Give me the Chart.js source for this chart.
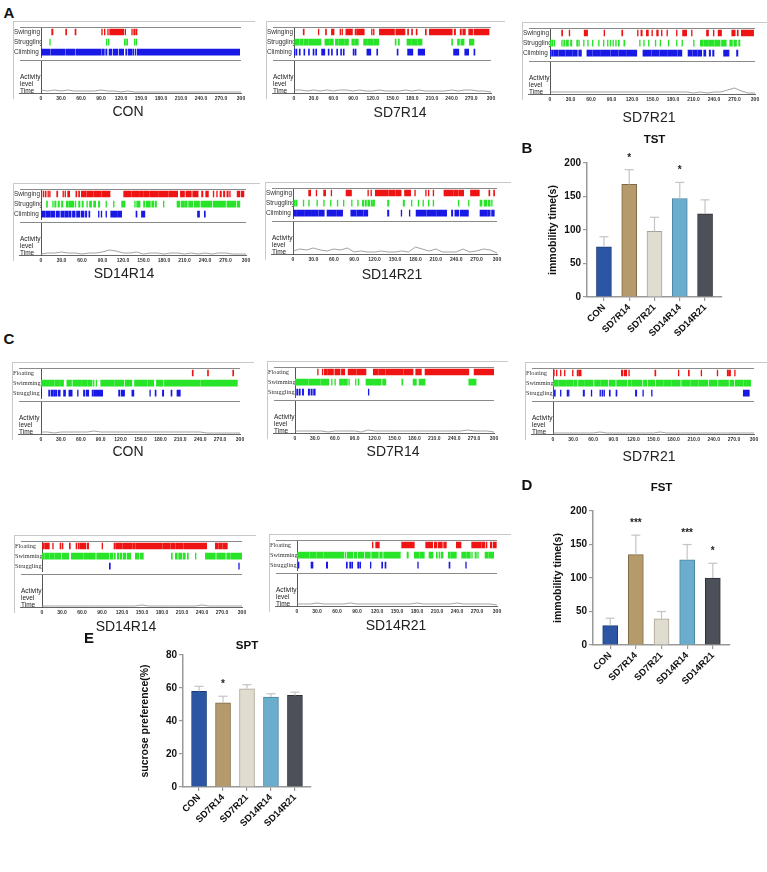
<!DOCTYPE html>
<html>
<head>
<meta charset="utf-8">
<script src="https://cdn.jsdelivr.net/npm/chart.js"></script>
<style>
  body { margin: 0; background: #fff; width: 767px; height: 872px; position: relative; overflow: hidden;
         font-family: "Liberation Sans", Arial, sans-serif; }
  canvas { position: absolute; }
</style>
</head>
<body>
<script>
// ---- bar chart data (B, D, E) ----
const groups = ['CON', 'SD7R14', 'SD7R21', 'SD14R14', 'SD14R21'];
const tstMean = [75, 168, 98, 147, 124];
const tstErr = [15, 22, 21, 24, 21];
const tstStars = ['', '*', '', '*', ''];
const fstMean = [29, 135, 39, 127, 100];
const fstErr = [11, 29, 11, 23, 22];
const fstStars = ['', '***', '', '***', '*'];
const sptMean = [58, 51, 59.5, 54.5, 55.5];
const sptErr = [3, 4, 2.5, 2, 2];
const sptStars = ['', '*', '', '', ''];

// ---- ethogram data (A, C), intervals in seconds ----
const tstRows = ['Swinging', 'Struggling', 'Climbing'];
const fstRows = ['Floating', 'Swimming', 'Struggling'];
const timeTicks = [0, 30, 60, 90, 120, 150, 180, 210, 240, 270, 300];
const actTimes = [0, 10, 20, 30, 40, 50, 60, 70, 80, 90, 100, 110, 120, 130, 140, 150, 160, 170, 180, 190, 200, 210, 220, 230, 240, 250, 260, 270, 280, 290, 300];

const tstCON_swing = [[16,18],[37,38.5],[51,52.5],[91,92],[95,96],[100,101],[103,106],[107,124],[126,127],[136,137],[139,140.5],[142,144]];
const tstCON_strug = [[13,14],[98,99],[101,102],[125,126],[127,128],[129,130],[140,141],[142.5,143.5]];
const tstCON_climb = [[0,13],[14.5,36.5],[38,51],[52.5,90.5],[92,95],[97,99],[102,106],[108,115],[117,124],[127,129],[131,136],[137.5,139],[141,142],[144,298]];
const tstCON_act = [3,2,3,2,3,2,2,2,2,3,2,2,1,2,1,1,1,1,1,1,1,1,1,1,1,1,1,1,1,1,1];

const tstSD7R14_swing = [[14,15.5],[37,38],[48,49.5],[57,61],[70,71],[73,74],[79,89],[93,95],[96,107],[118,119],[121,122],[130,153],[155,169],[173,174.5],[179,180.5],[186,187.5],[200,201.5],[206,241],[244,246],[253,255],[257,261],[266,272],[274,297]];
const tstSD7R14_strug = [[1,8],[9,14],[15,22],[23,30],[31,36],[37,41],[47,53],[54,60],[63,67],[68,76],[77,83],[88,92],[93,98],[106,112],[113,121],[122,129],[154,155.5],[159,160.5],[172,178],[179,188],[189,195],[240,241.5],[249,252],[254,259],[267,274]];
const tstSD7R14_climb = [[0,1.5],[3,4.5],[8,9.5],[15,16.5],[22,23.5],[29,30.5],[33,34.5],[42,47],[52,53.5],[57,58.5],[65,66.5],[71,72.5],[75,76.5],[90,91.5],[93,94.5],[111,117],[126,127.5],[157,158.5],[173,181],[189,199],[243,251],[260,266],[274,275.5]];
const tstSD7R14_act = [3,3,2,3,2,3,2,3,3,2,3,2,2,3,2,2,2,3,2,3,2,2,2,2,3,2,3,3,2,2,1];

const tstSD7R21_swing = [[17,18.5],[28,29],[50,55],[79,80],[105,106.5],[128,129],[133,135],[141,144],[149,150],[156,158.5],[163,164],[171,172],[185,186],[194,200],[207,208],[229,232],[239,240],[246,251],[266,271],[274,275.5],[280,298]];
const tstSD7R21_strug = [[0,2],[3,4.5],[6,7],[17,18],[20,22],[24,27],[30,32],[39,40.5],[42,43],[49,50],[55,56],[62,63],[71,72],[78,79],[84,85],[88,89],[92,93],[96,97],[100,101.5],[108,109.5],[131,132],[137,138],[144,145],[154,155],[161,162],[173,174],[185,186],[193,194],[210,211],[220,224],[225,232],[233,240],[241,249],[251,258],[263,267],[269,273],[276,278]];
const tstSD7R21_climb = [[0,2],[3,5],[6,12],[13,22],[23,32],[33,40],[42,46],[54,62],[63,74],[75,88],[89,100],[101,112],[113,127],[136,148],[149,160],[161,172],[173,186],[187,193],[202,208],[209,215],[216,222],[225,228],[233,235],[238,240],[254,260],[261,262],[273,275]];
const tstSD7R21_act = [2,2,2,2,2,2,2,2,2,2,2,2,2,2,2,2,2,2,2,2,2,1,2,1,2,2,4,6,3,1,1];

const tstSD14R14_swing = [[3,4],[6,7.5],[10,11],[12.5,13.5],[23,24.5],[32,33],[35,36],[39,42],[51,52.5],[55,56.5],[59,66],[67,76],[77,88],[89,101],[121,132],[133,143],[144,150],[151,158],[159,172],[173,186],[187,200],[204,210],[212,220],[222,230],[235,237],[241,245],[252,253],[257,258],[262,264],[267,269],[272,274],[276,277],[287,291],[293,297]];
const tstSD14R14_strug = [[8,9.5],[17,18],[20,22],[25,27],[30,32],[37,40],[41,48],[50,51],[55,57],[60,62],[67,68],[71,74],[77,80],[84,86],[95,96],[106,107],[118,123],[137,138],[140,145],[150,152],[154,160],[162,165],[167,169],[179,180],[199,203],[205,209],[210,214],[216,222],[224,232],[234,250],[252,270],[272,285],[287,291]];
const tstSD14R14_climb = [[0,6],[7,13],[14,20],[22,27],[29,34],[35,40],[41,44],[46,50],[52,57],[59,63],[65,67],[70,71.5],[84,85],[88,89],[95,96],[102,112],[113,118],[139,140.5],[147,152],[229,232],[239,240.5]];
const tstSD14R14_act = [1,2,2,3,2,2,1,2,2,3,5,4,2,2,3,1,2,2,1,2,2,1,2,1,2,1,2,2,1,1,1];

const tstSD14R21_swing = [[23,26],[34,35],[45,48],[56,57],[78,86],[110,111],[114.5,115.5],[121,140],[141,150],[151,159],[164,173],[179,180],[195,196],[199,200],[206,207],[222,236],[237,243],[244,251],[261,274],[288,289.5],[295,296.5]];
const tstSD14R21_strug = [[1,3],[4,6],[15,16],[23,24],[35,36],[45,46],[55,56],[65,66],[74,75],[86,87],[95,96],[102,104],[106,108],[110,113],[115,117],[118,120],[139,141],[162,164],[174,175],[184,185],[191,192],[199,200],[206,207],[243,244],[258,259],[275,278],[281,285],[287,290],[292,293]];
const tstSD14R21_climb = [[0,4],[5,17],[18,26],[27,37],[38,46],[50,63],[64,73],[85,93],[94,103],[104,110],[139,141],[159,160],[171,172],[181,196],[197,211],[212,226],[233,235],[238,244],[246,258],[275,285],[286,290],[292,296]];
const tstSD14R21_act = [3,5,4,6,4,3,5,4,6,2,3,2,2,3,2,2,3,2,7,5,3,5,2,2,2,5,2,3,5,4,1];

const fstCON_float = [[228,229.5],[251,252.5],[289,290.5]];
const fstCON_swim = [[0,13],[14,20],[21,28],[29,34],[39,46],[48,60],[61,70],[71,77],[79,80],[83,84],[90,110],[111,125],[127,137],[141,160],[161,170],[174,184],[186,206],[207,240],[241,296]];
const fstCON_strug = [[0,1],[11.5,13],[15,18],[19,22],[23,24],[26,29],[34,37],[42,47],[55,56],[64,66],[68,72],[77,79],[80,93],[117,119],[121,126],[137,140],[164,165],[172,173.5],[183,185],[196,197.5],[205,210]];
const fstCON_act = [2,2,1,2,2,2,2,2,3,2,2,2,2,2,2,2,2,2,2,2,2,2,2,2,2,1,1,1,1,1,1];

const fstSD7R14_float = [[34,35],[41,42],[44,48],[49,58],[60,68],[70,75],[80,92],[93,107],[118,125],[126,136],[137,163],[164,178],[182,185],[186,190.5],[196,262],[270,300]];
const fstSD7R14_swim = [[0,20],[21,38],[39,51],[55,56],[60,61],[67,72],[73,79],[81,82],[91,92],[95,96.5],[107,120],[121,130],[132,137],[161,162.5],[178,183],[187,196],[262,273]];
const fstSD7R14_strug = [[2.5,4],[6,8],[11,13],[20,22],[24,26],[28,30.5],[110.5,111.5]];
const fstSD7R14_act = [2,2,2,2,2,1,2,2,2,2,1,3,2,2,2,2,2,2,2,2,2,2,2,2,2,2,3,2,2,2,1];

const fstSD7R21_float = [[1,2],[5,6],[11,12],[17,18],[29,30],[36,38],[39,42],[102,104],[106,110],[113,114],[152,153.5],[187,188],[202,203.5],[221,222],[245,246],[260,262],[263,265],[271,272]];
const fstSD7R21_swim = [[0,8],[9,19],[20,30],[31,36],[38,47],[48,60],[62,70],[71,82],[84,93],[95,110],[112,117],[118,133],[135,140],[142,152],[154,164],[165,176],[177,190],[192,205],[206,217],[218,231],[233,245],[247,262],[264,270],[272,284],[285,289],[290,295]];
const fstSD7R21_strug = [[2,3.5],[11,12],[21,22],[23,24],[45,47],[57,58],[70,71],[73,74.5],[76,77],[84,85.5],[94,95.5],[123,125],[134,135],[147,148],[284,293]];
const fstSD7R21_act = [1,1,1,1,1,1,1,2,1,1,1,1,1,1,1,1,2,1,1,1,1,1,1,1,1,1,1,1,1,1,1];

const fstSD14R14_float = [[0,3],[4,7],[8,11],[16,17],[27,28],[30,31.5],[41,42.5],[51,52],[54,56],[57,61],[62,66],[68,70],[90,91],[108,110],[111,120],[121,135],[136,140],[141,148],[149,180],[181,192],[193,200],[201,212],[213,220],[221,232],[233,247],[260,264],[265,270],[271,278]];
const fstSD14R14_swim = [[0,3],[4,11],[12,18],[19,28],[30,40],[44,52],[53,62],[63,70],[71,80],[82,100],[102,106],[108,110],[113,115],[117,120],[122,126],[128,133],[140,145],[147,152],[194,195.5],[200,203],[205,210],[212,215],[218,219.5],[230,231],[245,250],[251,260],[262,275],[277,282],[283,300]];
const fstSD14R14_strug = [[101,102.5],[295,296]];
const fstSD14R14_act = [1,1,1,1,1,1,1,1,1,1,1,1,1,1,1,2,1,1,1,1,1,1,1,1,2,1,1,1,1,1,1];

const fstSD14R21_float = [[113,114],[118,123.5],[157,166],[167,176],[193,196],[197,203.5],[206,210],[212,218],[220,224],[239,246],[262,268],[269,276],[277,282],[284,285],[290,292],[294,299]];
const fstSD14R21_swim = [[0,4],[5,18],[19,29],[30,39],[40,49],[50,70],[72,73],[75,84],[86,90],[92,100],[102,110],[112,122],[124,128],[130,155],[165,167],[176,183],[184,191],[198,204],[209,210.5],[213,214],[216,219],[227,230],[231,239],[247,254],[255,260],[262,263],[267,269],[271,272],[282,287],[288,295]];
const fstSD14R21_strug = [[2,3],[21,24],[44,46],[74,75.5],[79,80.5],[82,83.5],[91,92.5],[94,95.5],[110,111],[127,128.5],[132,133.5],[181,182],[228,229.5],[253,254]];
const fstSD14R21_act = [2,2,2,3,2,2,2,2,3,2,2,2,2,2,2,2,2,2,3,2,2,2,2,2,3,2,2,2,2,2,1];

// ---- styles ----
const SANS = '"Liberation Sans", Arial, sans-serif';
const SERIF = '"Liberation Serif", "Times New Roman", serif';
Chart.defaults.font.family = SANS;
const ethoColors = ['rgb(238,20,20)', 'rgb(40,228,40)', 'rgb(25,25,230)'];
const barFill = ['#2c56a3', '#b59b6b', '#e1dcd0', '#6badcc', '#4c5058'];
const barEdge = ['#1c3c78', '#7e6a46', '#aaa496', '#4a86a3', '#2e3136'];

function addCanvas(x, y, w, h) {
  const c = document.createElement('canvas');
  c.width = w; c.height = h;
  c.style.left = x + 'px'; c.style.top = y + 'px';
  document.body.appendChild(c);
  return c;
}

function addText(txt, x, y, css) {
  const d = document.createElement('div');
  d.textContent = txt;
  d.style.cssText = 'position:absolute;left:' + x + 'px;top:' + y + 'px;transform:translate(-50%,-50%);white-space:nowrap;' + css;
  document.body.appendChild(d);
}

function hline(ctx, x1, x2, y) { ctx.beginPath(); ctx.moveTo(x1, y); ctx.lineTo(x2, y); ctx.stroke(); }
function vline(ctx, x, y1, y2) { ctx.beginPath(); ctx.moveTo(x, y1); ctx.lineTo(x, y2); ctx.stroke(); }

// one ethogram = raster chart on top + activity trace chart below
function ethogram(p) {
  const lw = p.ax - p.fx;
  const w = lw + p.aw + 14;
  const serif = p.rows === fstRows;

  const c1 = addCanvas(p.fx, p.fy, w, 40);
  new Chart(c1, {
    type: 'bar',
    data: {
      labels: p.rows,
      datasets: p.sets.map((set, k) => ({
        data: set.map(iv => ({ y: p.rows[k], x: iv })),
        backgroundColor: ethoColors[k],
        barThickness: 6,
        grouped: false,
        borderWidth: 0
      }))
    },
    options: {
      indexAxis: 'y', responsive: false, animation: false, events: [],
      layout: { padding: { top: 6, right: 14, left: 1, bottom: 1 } },
      plugins: { legend: { display: false }, tooltip: { enabled: false } },
      scales: {
        x: { type: 'linear', min: 0, max: 300, display: false },
        y: {
          offset: true,
          grid: { display: false, drawTicks: false },
          border: { display: true, color: '#555' },
          ticks: { autoSkip: false, crossAlign: 'far', padding: 0, color: '#333',
                   font: { size: serif ? 6.3 : 6.4, family: serif ? SERIF : SANS } },
          afterFit: s => { s.width = lw - 1; }
        }
      }
    },
    plugins: [{
      id: 'rasterFrame',
      afterDraw(chart) {
        const { ctx, chartArea: a } = chart;
        ctx.save();
        ctx.lineWidth = 1;
        ctx.strokeStyle = '#c8c8c8';
        hline(ctx, 0, w, 0.5);
        vline(ctx, 0.5, 0, 40);
        ctx.strokeStyle = '#8a8a8a';
        hline(ctx, 7, a.right, a.top + 0.5);
        hline(ctx, 7, a.right, 39.5);
        ctx.restore();
      }
    }]
  });

  const c2 = addCanvas(p.fx, p.fy + 40, w, 46);
  new Chart(c2, {
    type: 'line',
    data: {
      datasets: [{
        data: p.act.map((v, i) => ({ x: actTimes[i], y: v })),
        borderColor: '#8c8c8c', borderWidth: 0.8, pointRadius: 0, tension: 0
      }]
    },
    options: {
      responsive: false, animation: false, events: [],
      layout: { padding: { top: 0, right: 14, left: 2, bottom: 0 } },
      plugins: { legend: { display: false }, tooltip: { enabled: false } },
      scales: {
        x: {
          type: 'linear', min: 0, max: 300,
          grid: { display: false, drawTicks: false },
          border: { display: true, color: '#666' },
          afterBuildTicks: s => { s.ticks = timeTicks.map(v => ({ value: v })); },
          ticks: {
            autoSkip: false, maxRotation: 0, padding: 3, color: '#333',
            font: { size: 5, weight: 'bold' },
            callback: v => (v === 0 || v === 300) ? String(v) : v.toFixed(1)
          },
          afterFit: s => { s.height = 14; }
        },
        y: {
          min: 0, max: 32,
          ticks: { display: false },
          grid: { display: false, drawTicks: false },
          border: { display: true, color: '#555' },
          afterFit: s => { s.width = lw - 2; }
        }
      }
    },
    plugins: [{
      id: 'activityText',
      afterDraw(chart) {
        const { ctx, chartArea: a } = chart;
        ctx.save();
        ctx.strokeStyle = '#c8c8c8';
        vline(ctx, 0.5, 0, 38);
        ctx.strokeStyle = '#666';
        hline(ctx, 6, a.left, a.bottom + 0.5);
        ctx.fillStyle = '#222';
        ctx.font = '6.5px ' + SANS;
        ctx.textBaseline = 'middle';
        ctx.fillText('Activity', 7, 16);
        ctx.fillText('level', 7, 23);
        ctx.fillText('Time', 7, 30);
        ctx.restore();
      }
    }]
  });

  addText(p.name, p.lx, p.ly, 'font-size:14px;color:#222;');
}

// bar chart with SEM whiskers and significance stars
function barPanel(p) {
  const c = addCanvas(p.x, p.y, p.w, p.h);
  new Chart(c, {
    type: 'bar',
    data: {
      datasets: [{
        data: p.mean.map((v, i) => ({ x: i, y: v })),
        backgroundColor: barFill,
        borderColor: barEdge,
        borderWidth: 1,
        barThickness: 15
      }]
    },
    options: {
      responsive: false, animation: false, events: [],
      layout: { padding: { top: p.padTop, right: 4, left: 0, bottom: 0 } },
      plugins: { legend: { display: false }, tooltip: { enabled: false } },
      scales: {
        x: {
          type: 'linear', min: -0.67, max: 4.67, offset: false,
          grid: { display: true, drawOnChartArea: false, offset: false, tickLength: 4, color: '#999', lineWidth: 1.2 },
          border: { display: true, color: '#999', width: 1.5 },
          afterBuildTicks: s => { s.ticks = groups.map((g, i) => ({ value: i })); },
          ticks: {
            autoSkip: false, minRotation: 45, maxRotation: 45, padding: 1, color: '#111',
            font: { size: 9.5, weight: 'bold' },
            callback: v => groups[v]
          },
          afterFit: s => { s.height = p.xh; }
        },
        y: {
          min: 0, max: p.max,
          grid: { display: true, drawOnChartArea: false, tickLength: 4, color: '#999', lineWidth: 1.2 },
          border: { display: true, color: '#999', width: 1.5 },
          ticks: { stepSize: p.step, padding: 2, color: '#111', font: { size: 10, weight: 'bold' } },
          title: { display: true, text: p.ytitle, color: '#111', font: { size: 10.5, weight: 'bold' }, padding: { top: p.tpad, bottom: 0 } },
          afterFit: s => { s.width = p.yw; }
        }
      }
    },
    plugins: [{
      id: 'errBars',
      afterDatasetsDraw(chart) {
        const { ctx, chartArea: a } = chart;
        const y = chart.scales.y;
        const meta = chart.getDatasetMeta(0);
        ctx.save();
        meta.data.forEach((bar, i) => {
          const top = y.getPixelForValue(p.mean[i]);
          const cap = y.getPixelForValue(p.mean[i] + p.err[i]);
          ctx.strokeStyle = '#c4c4c4';
          ctx.lineWidth = 1.2;
          vline(ctx, bar.x, top, cap);
          hline(ctx, bar.x - 4.5, bar.x + 4.5, cap);
          if (p.stars[i]) {
            ctx.fillStyle = '#222';
            ctx.font = 'bold 10px ' + SANS;
            ctx.textAlign = 'center';
            ctx.textBaseline = 'alphabetic';
            ctx.fillText(p.stars[i], bar.x, cap - 9);
          }
        });
        ctx.fillStyle = '#111';
        ctx.font = 'bold 11.5px ' + SANS;
        ctx.textAlign = 'center';
        ctx.textBaseline = 'middle';
        ctx.fillText(p.title, (a.left + a.right) / 2, a.top - p.titleGap);
        ctx.restore();
      }
    }]
  });
}

// ---- panel A ----
ethogram({ fx: 13, fy: 21, ax: 41, aw: 200, rows: tstRows, sets: [tstCON_swing, tstCON_strug, tstCON_climb], act: tstCON_act, name: 'CON', lx: 128, ly: 111 });
ethogram({ fx: 266, fy: 21, ax: 294, aw: 197, rows: tstRows, sets: [tstSD7R14_swing, tstSD7R14_strug, tstSD7R14_climb], act: tstSD7R14_act, name: 'SD7R14', lx: 400, ly: 112 });
ethogram({ fx: 522, fy: 22, ax: 550, aw: 205, rows: tstRows, sets: [tstSD7R21_swing, tstSD7R21_strug, tstSD7R21_climb], act: tstSD7R21_act, name: 'SD7R21', lx: 649, ly: 117 });
ethogram({ fx: 13, fy: 183, ax: 41, aw: 205, rows: tstRows, sets: [tstSD14R14_swing, tstSD14R14_strug, tstSD14R14_climb], act: tstSD14R14_act, name: 'SD14R14', lx: 124, ly: 273 });
ethogram({ fx: 265, fy: 182, ax: 293, aw: 204, rows: tstRows, sets: [tstSD14R21_swing, tstSD14R21_strug, tstSD14R21_climb], act: tstSD14R21_act, name: 'SD14R21', lx: 392, ly: 274 });

// ---- panel C ----
ethogram({ fx: 12, fy: 362, ax: 41, aw: 199, rows: fstRows, sets: [fstCON_float, fstCON_swim, fstCON_strug], act: fstCON_act, name: 'CON', lx: 128, ly: 451 });
ethogram({ fx: 267, fy: 361, ax: 295, aw: 199, rows: fstRows, sets: [fstSD7R14_float, fstSD7R14_swim, fstSD7R14_strug], act: fstSD7R14_act, name: 'SD7R14', lx: 393, ly: 451 });
ethogram({ fx: 525, fy: 362, ax: 553, aw: 201, rows: fstRows, sets: [fstSD7R21_float, fstSD7R21_swim, fstSD7R21_strug], act: fstSD7R21_act, name: 'SD7R21', lx: 649, ly: 456 });
ethogram({ fx: 14, fy: 535, ax: 42, aw: 200, rows: fstRows, sets: [fstSD14R14_float, fstSD14R14_swim, fstSD14R14_strug], act: fstSD14R14_act, name: 'SD14R14', lx: 126, ly: 626 });
ethogram({ fx: 269, fy: 534, ax: 297, aw: 200, rows: fstRows, sets: [fstSD14R21_float, fstSD14R21_swim, fstSD14R21_strug], act: fstSD14R21_act, name: 'SD14R21', lx: 396, ly: 625 });

// ---- panels B, D, E ----
barPanel({ x: 540, y: 130, w: 186, h: 215, yw: 47, padTop: 33, xh: 48, tpad: 7, max: 200, step: 50,
           mean: tstMean, err: tstErr, stars: tstStars, title: 'TST', titleGap: 23, ytitle: 'immobility time(s)' });
barPanel({ x: 540, y: 470, w: 194, h: 223, yw: 53, padTop: 41, xh: 48, tpad: 12, max: 200, step: 50,
           mean: fstMean, err: fstErr, stars: fstStars, title: 'FST', titleGap: 23, ytitle: 'immobility time(s)' });
barPanel({ x: 130, y: 620, w: 185, h: 215, yw: 53, padTop: 35, xh: 48, tpad: 9, max: 80, step: 20,
           mean: sptMean, err: sptErr, stars: sptStars, title: 'SPT', titleGap: 9, ytitle: 'sucrose preference(%)' });

// panel letters
addText('A', 9, 12, 'font-size:15px;font-weight:bold;color:#111;');
addText('B', 527, 147, 'font-size:15px;font-weight:bold;color:#111;');
addText('C', 9, 338, 'font-size:15px;font-weight:bold;color:#111;');
addText('D', 527, 484, 'font-size:15px;font-weight:bold;color:#111;');
addText('E', 89, 637, 'font-size:15px;font-weight:bold;color:#111;');
</script>
</body>
</html>
